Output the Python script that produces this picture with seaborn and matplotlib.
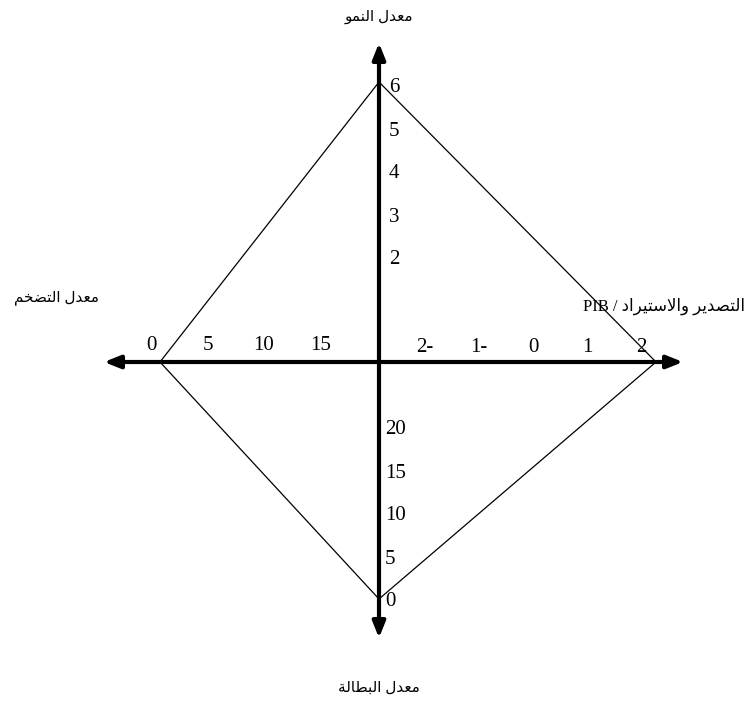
import seaborn as sns
import matplotlib.pyplot as plt
import pandas as pd

# قيم المحاور (المربع السحري لكالدور)
growth_ticks = [2, 3, 4, 5, 6]
trade_ticks = [-2, -1, 0, 1, 2]
trade_labels = ['2-', '1-', '0', '1', '2']
infl_ticks = [0, 5, 10, 15]
unemp_ticks = [0, 5, 10, 15, 20]

# قيم رؤوس المربع
target_growth = 6
target_trade = 2
target_infl = 0
target_unemp = 0

titles = {
    'growth': 'معدل النمو',
    'infl': 'معدل التضخم',
    'trade': 'التصدير والاستيراد',
    'unemp': 'معدل البطالة',
}

# تشكيل الحروف العربية يدويا (matplotlib لا يقوم بذلك)
FORMS = {
    'ا': (0xFE8D, 0xFE8E, None, None),
    'ب': (0xFE8F, 0xFE90, 0xFE91, 0xFE92),
    'ة': (0xFE93, 0xFE94, None, None),
    'ت': (0xFE95, 0xFE96, 0xFE97, 0xFE98),
    'خ': (0xFEA5, 0xFEA6, 0xFEA7, 0xFEA8),
    'د': (0xFEA9, 0xFEAA, None, None),
    'ر': (0xFEAD, 0xFEAE, None, None),
    'س': (0xFEB1, 0xFEB2, 0xFEB3, 0xFEB4),
    'ص': (0xFEB9, 0xFEBA, 0xFEBB, 0xFEBC),
    'ض': (0xFEBD, 0xFEBE, 0xFEBF, 0xFEC0),
    'ط': (0xFEC1, 0xFEC2, 0xFEC3, 0xFEC4),
    'ع': (0xFEC9, 0xFECA, 0xFECB, 0xFECC),
    'ل': (0xFEDD, 0xFEDE, 0xFEDF, 0xFEE0),
    'م': (0xFEE1, 0xFEE2, 0xFEE3, 0xFEE4),
    'ن': (0xFEE5, 0xFEE6, 0xFEE7, 0xFEE8),
    'و': (0xFEED, 0xFEEE, None, None),
    'ي': (0xFEF1, 0xFEF2, 0xFEF3, 0xFEF4),
}


def joins_forward(c):
    return c in FORMS and FORMS[c][2] is not None


def shape(text):
    out = []
    i = 0
    n = len(text)
    while i < n:
        c = text[i]
        if c not in FORMS:
            out.append(c)
            i += 1
            continue
        prev = i > 0 and joins_forward(text[i - 1])
        if c == 'ل' and i + 1 < n and text[i + 1] == 'ا':
            out.append(chr(0xFEFC if prev else 0xFEFB))
            i += 2
            continue
        nxt = i + 1 < n and text[i + 1] in FORMS and joins_forward(c)
        iso, fin, ini, med = FORMS[c]
        if prev and nxt:
            out.append(chr(med))
        elif prev:
            out.append(chr(fin))
        elif nxt:
            out.append(chr(ini))
        else:
            out.append(chr(iso))
        i += 1
    return ''.join(reversed(out))


sns.set_theme(style='white')
plt.rcParams['font.family'] = ['Liberation Serif', 'DejaVu Sans']
plt.rcParams['text.color'] = 'black'

W, H = 747, 708
fig = plt.figure(figsize=(W / 100, H / 100), dpi=100)
ax = fig.add_axes([0, 0, 1, 1])
ax.set_xlim(0, W)
ax.set_ylim(H, 0)
ax.axis('off')

cx, cy = 379, 362


def growth_y(v):
    return 82 + (6 - v) * 43


def trade_x(v):
    return 548 + 54 * v


def infl_x(v):
    return 160 + 11.3 * v


def unemp_y(v):
    return 599 - 8.6 * v


# المحاور مع الأسهم
arrow = dict(arrowstyle='-|>,head_length=0.8,head_width=0.32', color='black',
             lw=3, shrinkA=0, shrinkB=0)
for tip in [(cx, 43), (cx, 638), (104, cy), (683, cy)]:
    ax.annotate('', xy=tip, xytext=(cx, cy), arrowprops=arrow)

# المربع
diamond = pd.DataFrame({
    'x': [cx, trade_x(target_trade), cx, infl_x(target_infl), cx],
    'y': [growth_y(target_growth), cy, unemp_y(target_unemp), cy,
          growth_y(target_growth)],
})
sns.lineplot(data=diamond, x='x', y='y', sort=False, color='black', lw=0.9,
             ax=ax, estimator=None)

fs = 15
for v in growth_ticks:
    ax.text(389, growth_y(v) + 6, str(v), ha='left', va='center', fontsize=fs)
for v, lab in zip(trade_ticks, trade_labels):
    ax.text(trade_x(v) - 15, 347, lab, ha='center', va='center', fontsize=fs)
for v in infl_ticks:
    ax.text(infl_x(v) - 9, 346, str(v), ha='center', va='center', fontsize=fs)
for v in unemp_ticks:
    ax.text(385, unemp_y(v) + 3, str(v), ha='left', va='center', fontsize=fs)

tfs = 11
ax.text(cx, 17, shape(titles['growth']), ha='center', va='center', fontsize=tfs)
ax.text(56, 298, shape(titles['infl']), ha='center', va='center', fontsize=tfs)
ax.text(745, 306, 'PIB / ' + shape(titles['trade']), ha='right', va='center',
        fontsize=12)
ax.text(cx, 688, shape(titles['unemp']), ha='center', va='center', fontsize=tfs)

fig.savefig('out.png', dpi=100)
